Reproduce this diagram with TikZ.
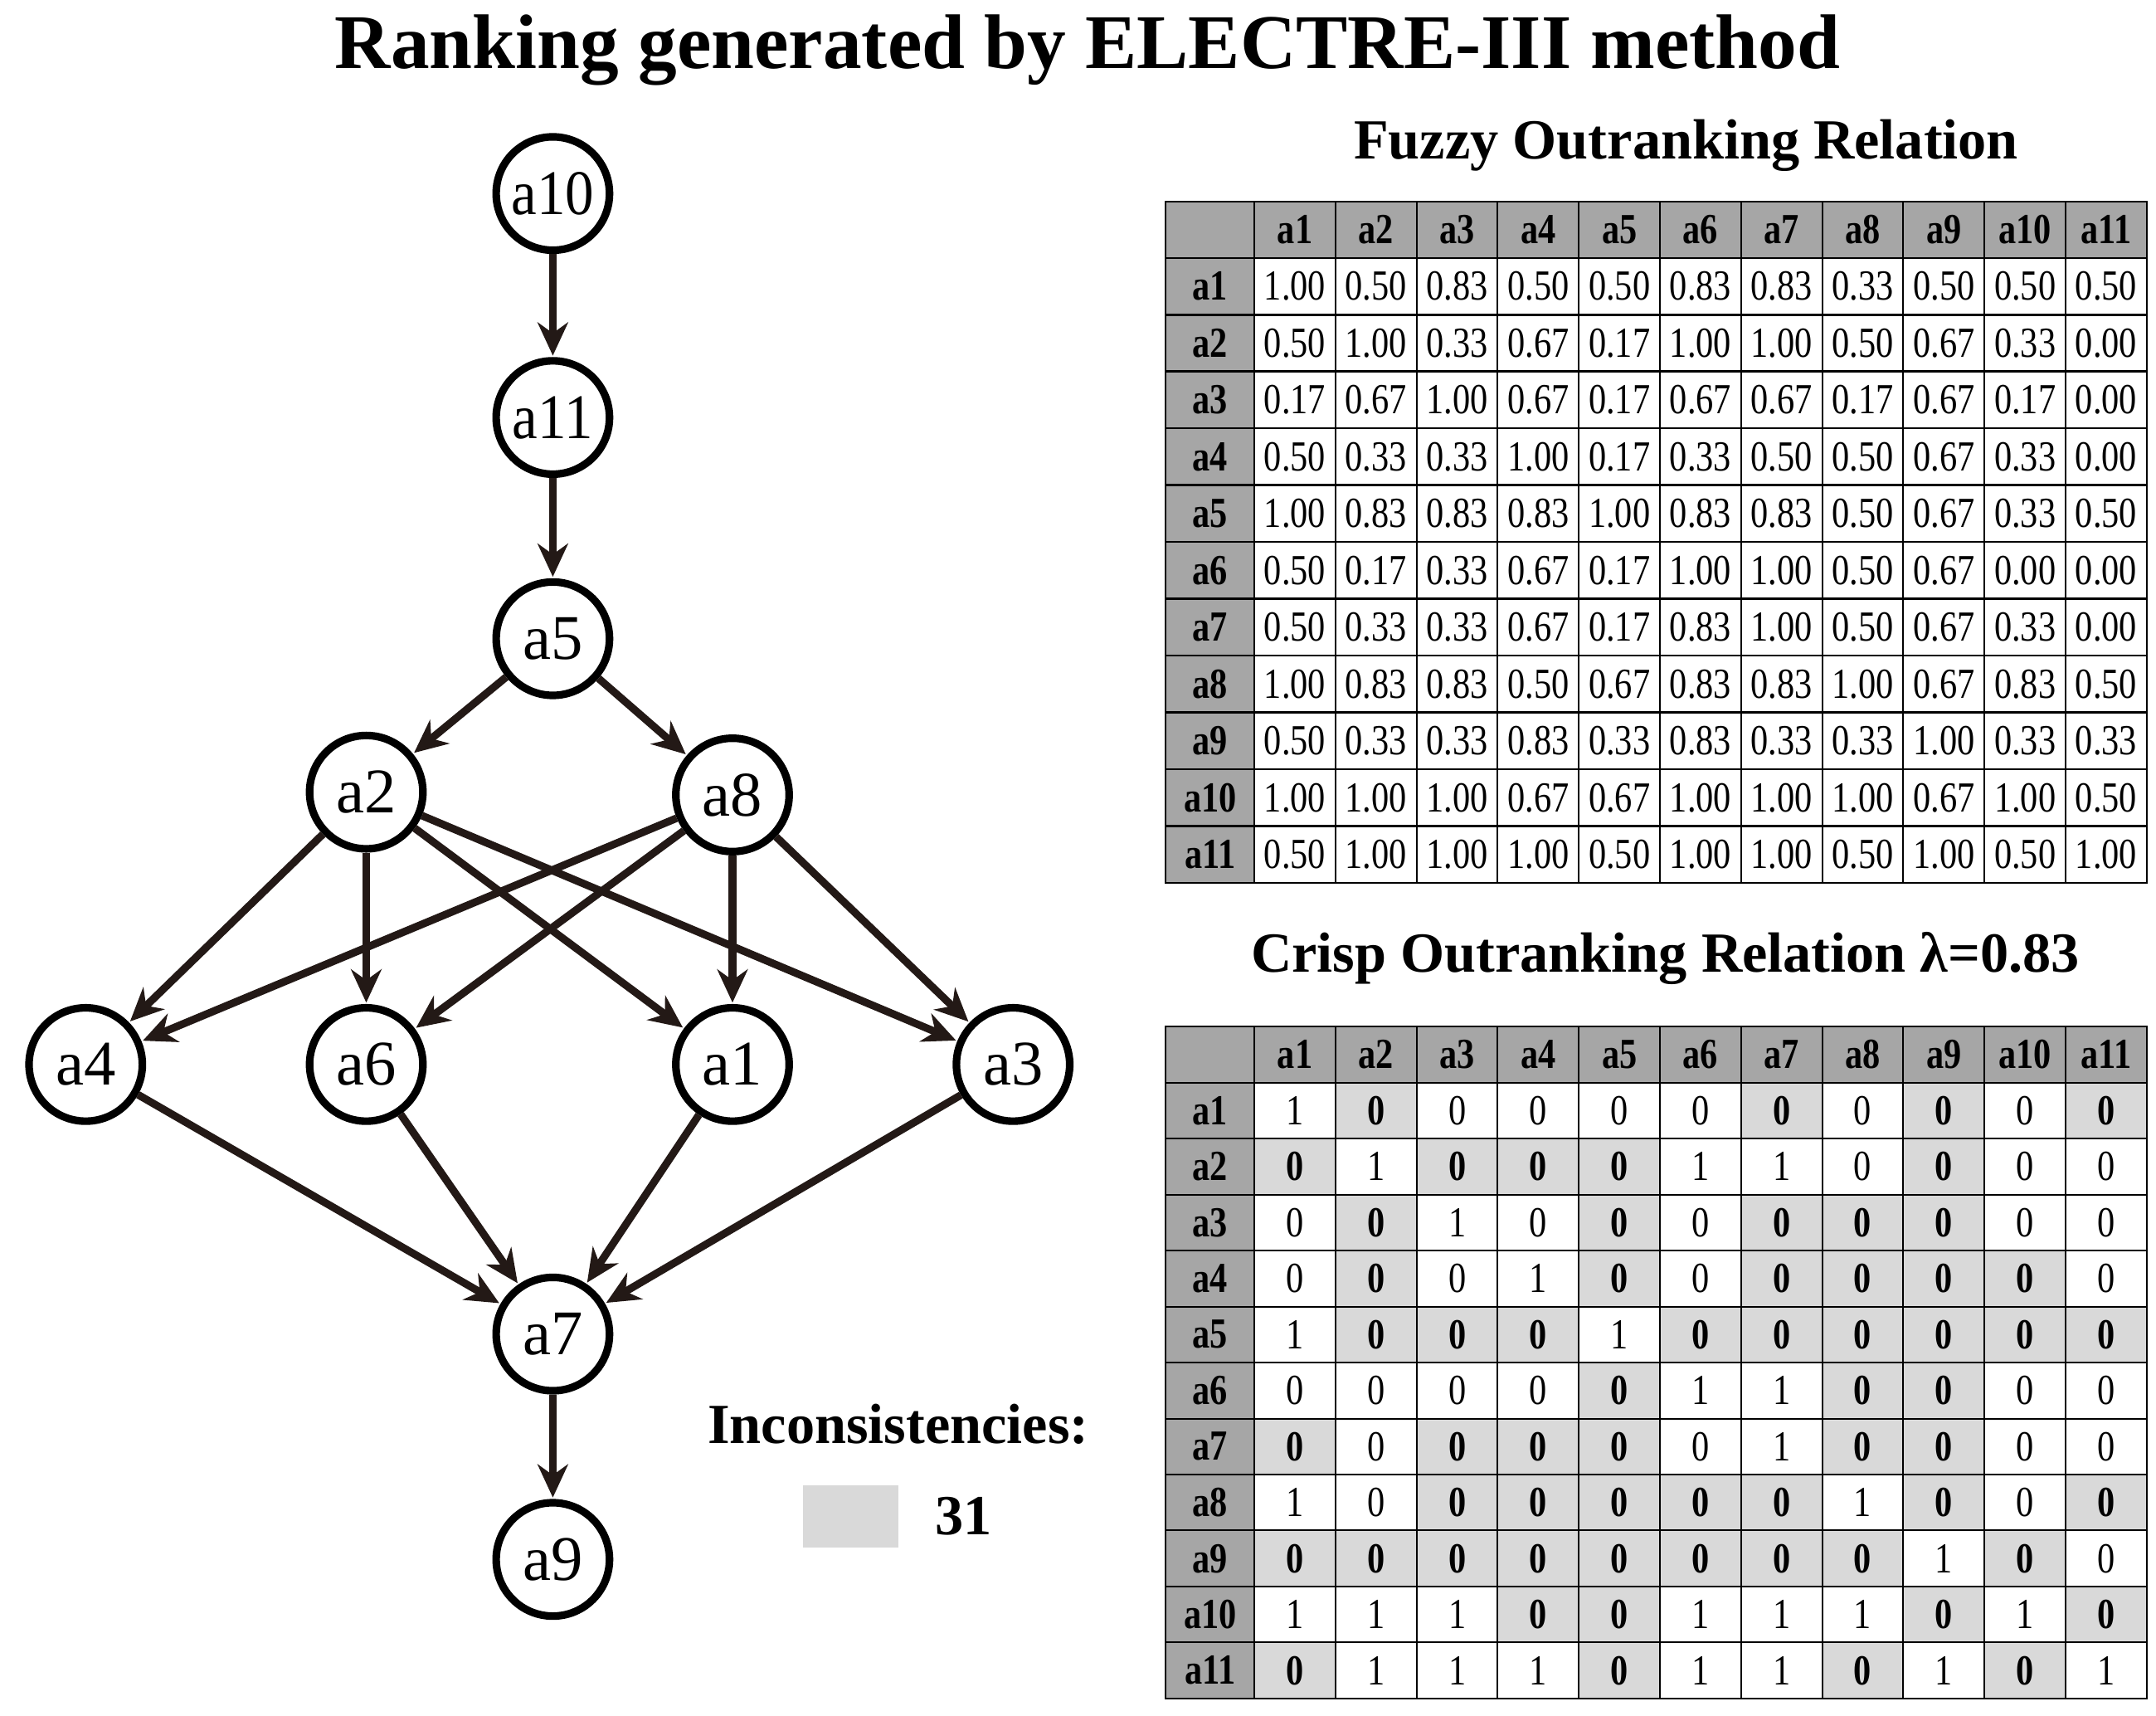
\documentclass[tikz,border=0pt]{standalone}
\usepackage{fontspec}
\setmainfont{Liberation Serif}
\usetikzlibrary{arrows.meta}
\definecolor{hdr}{HTML}{A6A6A6}
\definecolor{shd}{HTML}{D9D9D9}
\newcommand{\cx}[1]{\scalebox{0.82}[1]{#1}}
\begin{document}
\begin{tikzpicture}[x=1pt,y=-1pt,
  vert/.style={circle,draw=black,line width=5.5pt,minimum size=82pt,inner sep=0pt,font=\fontsize{46}{46}\selectfont,fill=white},
  edge/.style={line width=5.5pt,draw={rgb,255:red,35;green,25;blue,22},-{Stealth[length=24pt,width=22pt]},shorten >=1pt},
  cell/.style={draw=black,line width=1.2pt,minimum width=58.7pt,minimum height=40.8pt,inner sep=0pt,anchor=north west,font=\fontsize{31}{31}\selectfont},
  hcell/.style={cell,fill=hdr,font=\fontsize{31}{31}\selectfont\bfseries},
  ttl/.style={font=\fontsize{41}{41}\selectfont\bfseries}]
\useasboundingbox (0,0) rectangle (1560,1241);
\node[font=\fontsize{56}{56}\selectfont\bfseries] (title) at (787,36) {Ranking generated by ELECTRE-III method};
% graph
\node[vert] (a10) at (400,140) {\scalebox{0.9}[1]{a10}};
\node[vert] (a11) at (400,302) {\scalebox{0.9}[1]{a11}};
\node[vert] (a5) at (400,462) {a5};
\node[vert] (a2) at (265,573) {a2};
\node[vert] (a8) at (530,575) {a8};
\node[vert] (a4) at (62,770) {a4};
\node[vert] (a6) at (265,770) {a6};
\node[vert] (a1) at (530,770) {a1};
\node[vert] (a3) at (733,770) {a3};
\node[vert] (a7) at (400,965) {a7};
\node[vert] (a9) at (400,1128) {a9};
\foreach \s/\t in {a10/a11,a11/a5,a5/a2,a5/a8,a2/a4,a2/a6,a2/a1,a2/a3,a8/a4,a8/a6,a8/a1,a8/a3,a4/a7,a6/a7,a1/a7,a3/a7,a7/a9}
  \draw[edge] (\s) -- (\t);
% legend
\node[font=\fontsize{41}{41}\selectfont\bfseries] (inc) at (650,1030) {Inconsistencies:};
\node[fill=shd,minimum width=69pt,minimum height=45pt,inner sep=0pt] (lgbox) at (615.5,1097) {};
\node[font=\fontsize{41}{41}\selectfont\bfseries] (cnt) at (697,1097) {31};
% fuzzy table
\node[ttl] (ftitle) at (1220,105) {Fuzzy Outranking Relation};
\node[hcell,minimum width=64pt] (f-0-0) at (843,145) {};
\foreach \j in {1,...,11}{
  \node[hcell] (f-0-\j) at ({907+(\j-1)*58.7},145) {\cx{a\j}};
  \node[hcell,minimum width=64pt] (f-\j-0) at (843,{145+\j*41.1}) {\cx{a\j}};
}
\foreach \r [count=\i] in {
 {1.00,0.50,0.83,0.50,0.50,0.83,0.83,0.33,0.50,0.50,0.50},
 {0.50,1.00,0.33,0.67,0.17,1.00,1.00,0.50,0.67,0.33,0.00},
 {0.17,0.67,1.00,0.67,0.17,0.67,0.67,0.17,0.67,0.17,0.00},
 {0.50,0.33,0.33,1.00,0.17,0.33,0.50,0.50,0.67,0.33,0.00},
 {1.00,0.83,0.83,0.83,1.00,0.83,0.83,0.50,0.67,0.33,0.50},
 {0.50,0.17,0.33,0.67,0.17,1.00,1.00,0.50,0.67,0.00,0.00},
 {0.50,0.33,0.33,0.67,0.17,0.83,1.00,0.50,0.67,0.33,0.00},
 {1.00,0.83,0.83,0.50,0.67,0.83,0.83,1.00,0.67,0.83,0.50},
 {0.50,0.33,0.33,0.83,0.33,0.83,0.33,0.33,1.00,0.33,0.33},
 {1.00,1.00,1.00,0.67,0.67,1.00,1.00,1.00,0.67,1.00,0.50},
 {0.50,1.00,1.00,1.00,0.50,1.00,1.00,0.50,1.00,0.50,1.00}}{
  \foreach \v [count=\j] in \r
    \node[cell] (f-\i-\j) at ({907+(\j-1)*58.7},{145+\i*41.1}) {\cx{\v}};
}
% crisp table
\node[ttl] (ctitle) at (1205,693) {Crisp Outranking Relation λ=0.83};
\node[hcell,minimum width=64pt,minimum height=40.5pt] (c-0-0) at (843,742) {};
\foreach \j in {1,...,11}{
  \node[hcell,minimum height=40.5pt] (c-0-\j) at ({907+(\j-1)*58.7},742) {\cx{a\j}};
  \node[hcell,minimum width=64pt,minimum height=40.5pt] (c-\j-0) at (843,{742+\j*40.5}) {\cx{a\j}};
}
\foreach \r [count=\i] in {
 {1,2,0,0,0,0,2,0,2,0,2},
 {2,1,2,2,2,1,1,0,2,0,0},
 {0,2,1,0,2,0,2,2,2,0,0},
 {0,2,0,1,2,0,2,2,2,2,0},
 {1,2,2,2,1,2,2,2,2,2,2},
 {0,0,0,0,2,1,1,2,2,0,0},
 {2,0,2,2,2,0,1,2,2,0,0},
 {1,0,2,2,2,2,2,1,2,0,2},
 {2,2,2,2,2,2,2,2,1,2,0},
 {1,1,1,2,2,1,1,1,2,1,2},
 {2,1,1,1,2,1,1,2,1,2,1}}{
  \foreach \v [count=\j] in \r {
    \ifnum\v=2
      \node[cell,minimum height=40.5pt,fill=shd,font=\fontsize{31}{31}\selectfont\bfseries] (c-\i-\j) at ({907+(\j-1)*58.7},{742+\i*40.5}) {\cx{0}};
    \else
      \node[cell,minimum height=40.5pt] (c-\i-\j) at ({907+(\j-1)*58.7},{742+\i*40.5}) {\cx{\v}};
    \fi
  }
}
\end{tikzpicture}
\end{document}
